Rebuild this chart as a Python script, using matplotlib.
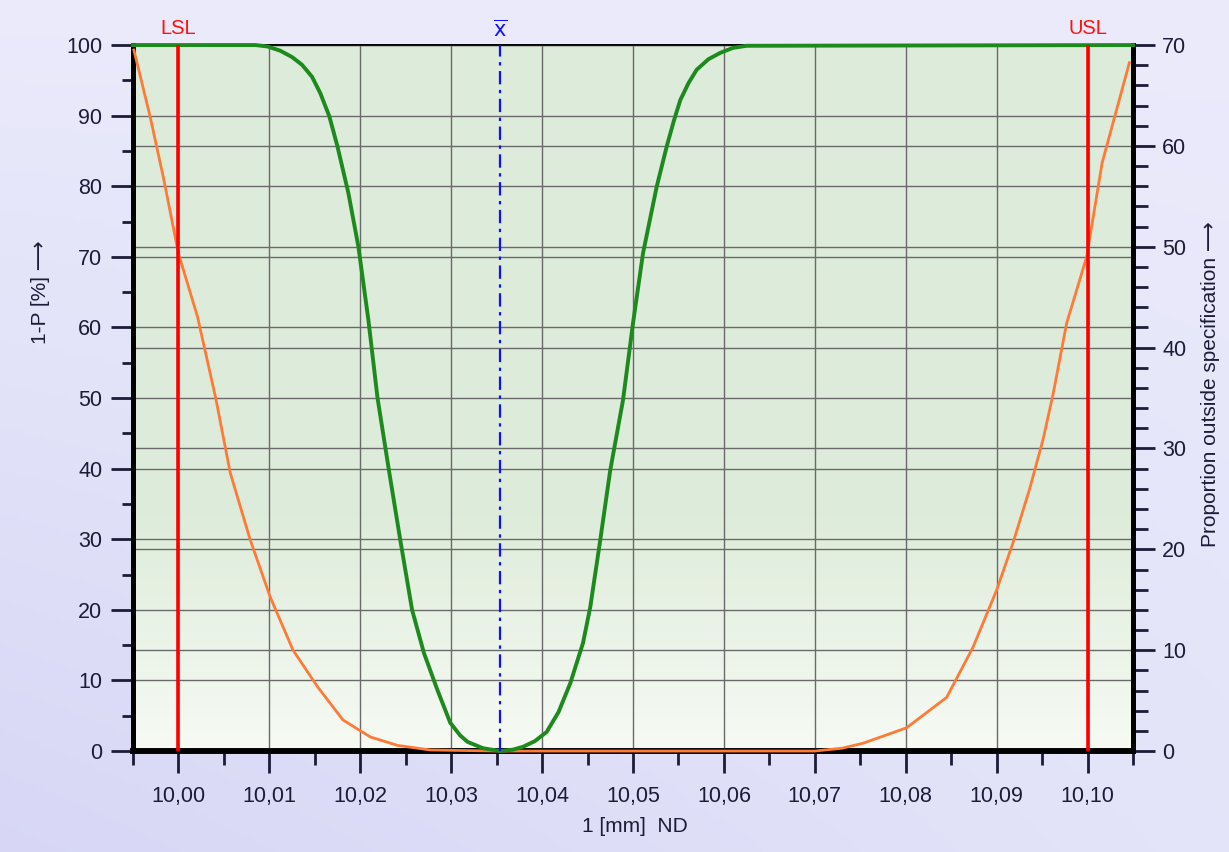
import numpy as np
import matplotlib as mpl
mpl.use('AGG')
import matplotlib.pyplot as plt
from matplotlib.ticker import MultipleLocator, FuncFormatter
import matplotlib.transforms as mtransforms

mpl.rcParams['font.family'] = ['Liberation Sans', 'DejaVu Sans']
mpl.rcParams['font.size'] = 15

# data
green_x = [9.995, 10.0085, 10.0098, 10.0112, 10.0125, 10.0136, 10.0147, 10.0156,
           10.0166, 10.0175, 10.0187, 10.0198, 10.0209, 10.0219,
           10.0231, 10.0244, 10.0257, 10.0270, 10.0285, 10.0299, 10.0310, 10.0318,
           10.0335, 10.0354, 10.0368, 10.0379, 10.0392, 10.0405, 10.0418, 10.0431,
           10.0445, 10.0453, 10.0464, 10.0475,
           10.0489, 10.0500, 10.0511, 10.0526, 10.0537, 10.0545, 10.0552, 10.0561,
           10.0570, 10.0583, 10.0596, 10.0610, 10.0625, 10.105]
green_y = [100, 100, 99.8, 99.2, 98.3, 97.2, 95.5, 93.2,
           89.9, 85.6, 79.0, 71.4, 61.0, 50.0,
           40.2, 29.9, 20.0, 13.9, 8.6, 4.0, 2.2, 1.3,
           0.4, 0.0, 0.2, 0.6, 1.4, 2.7, 5.5, 9.6,
           15.3, 20.4, 29.9, 39.8,
           49.7, 60.6, 70.5, 79.9, 85.6, 89.3, 92.2, 94.6,
           96.5, 98.0, 98.9, 99.6, 99.9, 100]

orange_x = [9.9951, 9.9969, 9.9984, 10.0000, 10.0021, 10.0041, 10.0057, 10.0079,
            10.0101, 10.0126, 10.0153, 10.0181, 10.0211, 10.0241, 10.0277, 10.035,
            10.070, 10.0730, 10.0753, 10.0801, 10.0845, 10.0874, 10.0900, 10.0918,
            10.0936, 10.0951, 10.0962, 10.0977, 10.0999, 10.1016, 10.1046]
orange_y = [99.3, 89.8, 80.9, 70.5, 61.5, 50.0, 39.4, 29.9,
            21.8, 14.3, 9.1, 4.4, 2.0, 0.8, 0.15, 0.0,
            0.0, 0.4, 1.1, 3.3, 7.6, 14.7, 22.8, 29.5,
            37.0, 44.1, 50.5, 60.6, 70.0, 83.3, 97.5]

lsl = 10.00
usl = 10.10
xbar = 10.0354

tick_col = '#1c1c38'

fig = plt.figure(figsize=(12.29, 8.52), dpi=100)

# lavender page background
bg = fig.add_axes([0, 0, 1, 1], zorder=-10)
gx, gy = np.meshgrid(np.linspace(0, 1, 200), np.linspace(0, 1, 200))
t = np.clip(0.55 * gy + 0.35 * gx * (1 - gy) + 0.1, 0, 1)
lav = np.array([0.83, 0.83, 0.96])
wht = np.array([0.97, 0.97, 1.0])
img = lav[None, None, :] * (1 - t[..., None]) + wht[None, None, :] * t[..., None]
bg.imshow(img, origin='lower', aspect='auto', extent=[0, 1, 0, 1])
bg.axis('off')

pos = [0.1082, 0.1185, 0.8137, 0.8286]
ax = fig.add_axes(pos)
ax2 = ax.twinx()
ax.set_zorder(ax2.get_zorder() + 1)
ax.patch.set_visible(False)

# light green plot background on the twin axes (drawn underneath)
vg = np.linspace(0, 1, 100)[:, None]
top = np.array([0.87, 0.925, 0.855])
bot = np.array([0.965, 0.982, 0.955])
w = np.clip(vg * 3.0, 0, 1)
pimg = bot[None, :] * (1 - w) + top[None, :] * w
pimg = np.repeat(pimg[:, None, :], 2, axis=1)
ax2.imshow(pimg, origin='lower', aspect='auto', extent=[0, 1, 0, 1],
           transform=ax2.transAxes, zorder=0)

ax.set_xlim(9.995, 10.105)
ax.set_ylim(0, 100)
ax2.set_ylim(0, 70)

grid_kw = dict(color='#6a6a6a', linewidth=1.0)
ax.xaxis.set_major_locator(MultipleLocator(0.01))
ax.xaxis.set_minor_locator(MultipleLocator(0.005))
ax.yaxis.set_major_locator(MultipleLocator(10))
ax.yaxis.set_minor_locator(MultipleLocator(5))
ax2.yaxis.set_major_locator(MultipleLocator(10))
ax2.yaxis.set_minor_locator(MultipleLocator(2))
ax.grid(True, which='major', **grid_kw)
ax2.grid(True, which='major', axis='y', **grid_kw)
ax.set_axisbelow(True)

ax.xaxis.set_major_formatter(FuncFormatter(lambda v, p: ('%.2f' % v).replace('.', ',')))

ax.tick_params(axis='x', which='major', length=16, width=2, pad=9, colors=tick_col, labelsize=15.5)
ax.tick_params(axis='x', which='minor', length=10, width=2, colors=tick_col)
ax.tick_params(axis='y', which='major', length=16, width=2, pad=6, colors=tick_col, labelsize=15.5)
ax.tick_params(axis='y', which='minor', length=8, width=2, colors=tick_col)
ax2.tick_params(axis='y', which='major', length=16, width=2, pad=5, colors=tick_col, labelsize=15.5)
ax2.tick_params(axis='y', which='minor', length=11, width=2, colors=tick_col)

for a in (ax, ax2):
    a.spines['left'].set_linewidth(3.5)
    a.spines['bottom'].set_linewidth(4)
    a.spines['right'].set_linewidth(3.5)
    a.spines['top'].set_linewidth(1.2)

# curves
ax.plot(orange_x, orange_y, color='#ff7a35', linewidth=2.0, zorder=3, clip_on=False,
        solid_joinstyle='round')
ax.plot(green_x, green_y, color='#1c8a1c', linewidth=2.8, zorder=4, clip_on=False,
        solid_joinstyle='round')

ax.axvline(lsl, color='#ff0000', linewidth=2.6, zorder=5)
ax.axvline(usl, color='#ff0000', linewidth=2.6, zorder=5)
ax.axvline(xbar, color='#1010ff', linewidth=1.6, linestyle=(0, (6, 2.5, 1.5, 2.5)), zorder=5)

trans = mtransforms.blended_transform_factory(ax.transData, ax.transAxes)
ax.text(lsl, 1.01, 'LSL', color='#ff1010', ha='center', va='bottom', fontsize=14.5, transform=trans)
ax.text(usl, 1.01, 'USL', color='#ff1010', ha='center', va='bottom', fontsize=14.5, transform=trans)
ax.text(xbar, 1.006, r'$\overline{\mathrm{x}}$', color='#1010ff', ha='center', va='bottom',
        fontsize=15, transform=trans)

ax.set_xlabel('1 [mm]  ND', color=tick_col, fontsize=15)
ax.xaxis.set_label_coords(0.502, -0.093)
ax.set_ylabel('1-P [%] \u27f6', color=tick_col, fontsize=15)
ax.yaxis.set_label_coords(-0.083, 0.65)
ax2.set_ylabel('Proportion outside specification \u27f6', color=tick_col, fontsize=15)
ax2.yaxis.set_label_coords(1.068, 0.52)

fig.savefig('out.png', dpi=100)
